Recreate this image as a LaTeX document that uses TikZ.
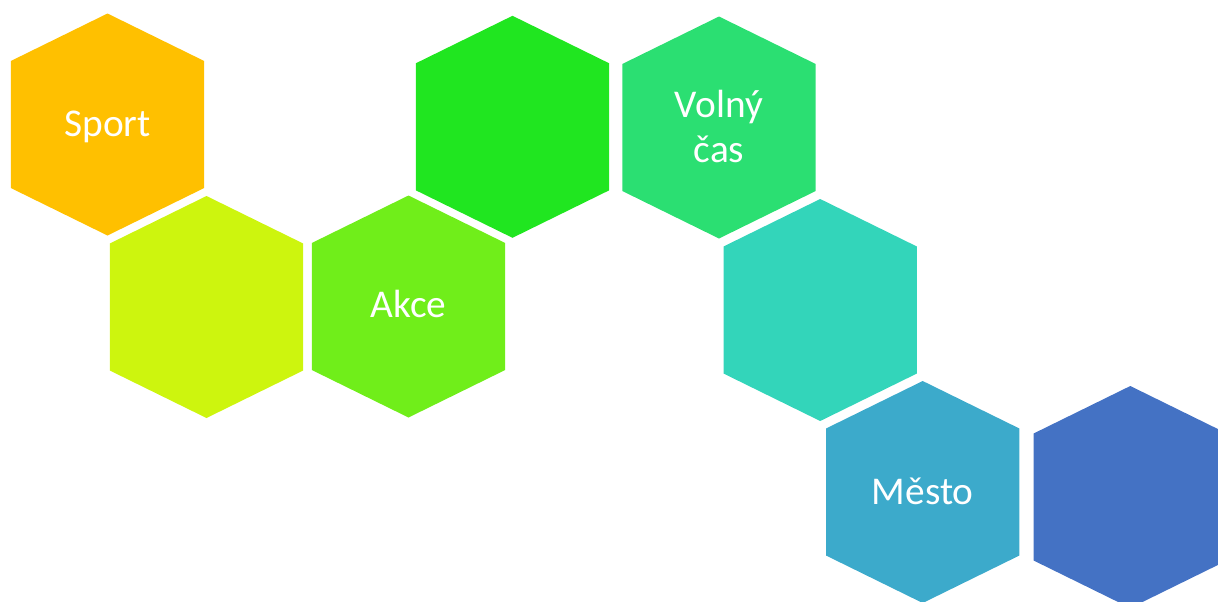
\documentclass[tikz,border=0pt]{standalone}
\usepackage{fontspec}
\setmainfont{Carlito}
\definecolor{h1}{HTML}{FFC000}
\definecolor{h2}{HTML}{CDF50E}
\definecolor{h3}{HTML}{70EE1A}
\definecolor{h4}{HTML}{20E620}
\definecolor{h5}{HTML}{2BDF72}
\definecolor{h6}{HTML}{33D5BA}
\definecolor{h7}{HTML}{3CAACB}
\definecolor{h8}{HTML}{4472C4}
\begin{document}
\begin{tikzpicture}[x=0.75pt,y=-0.75pt,
  lbl/.style={text=white,font=\fontsize{29.5}{34}\selectfont,align=center,inner sep=0pt}]
\useasboundingbox (0,0) rectangle (1218,601);
\begin{scope}
\clip (0,0) rectangle (1218,601);
\foreach \cx/\cy/\col in {107.5/124.5/h1, 206.5/307/h2, 408.5/306.5/h3, 512.5/126.8/h4,
  719/127.5/h5, 820.2/310/h6, 922.7/492/h7, 1130.3/497/h8}{
  \fill[\col] (\cx,\cy-111) -- (\cx+96.7,\cy-63.5) -- (\cx+96.7,\cy+63.5) -- (\cx,\cy+111)
    -- (\cx-96.7,\cy+63.5) -- (\cx-96.7,\cy-63.5) -- cycle;
}
\end{scope}
\node[lbl,anchor=base] (sport) at (107.5,136.7) {Sport};
\node[lbl,anchor=base] (akce) at (408.5,317) {Akce};
\node[lbl] (volny) at (719,126.5) {Volný\\čas};
\node[lbl,anchor=base] (mesto) at (922.7,504) {Město};
\end{tikzpicture}
\end{document}
